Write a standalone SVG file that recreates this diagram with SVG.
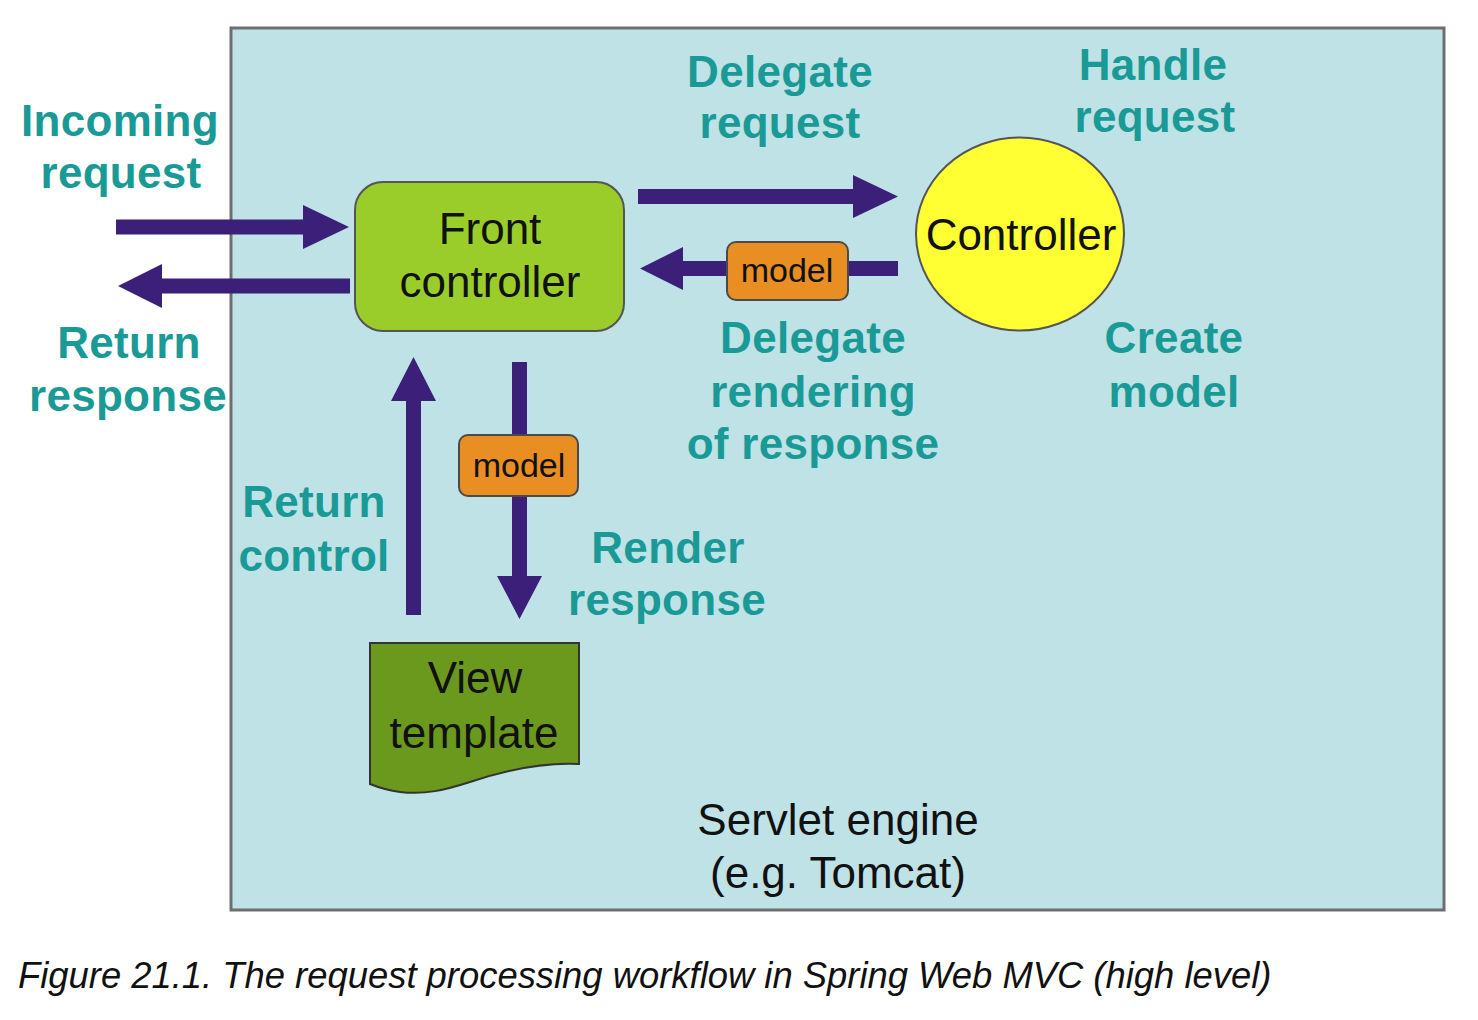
<svg xmlns="http://www.w3.org/2000/svg" width="1478" height="1020" viewBox="0 0 1478 1020">
<style>
.lbl{font-family:"Liberation Sans",Arial,sans-serif;font-weight:bold;font-size:44px;letter-spacing:0.3px;fill:#1a9a96;text-anchor:middle}
.nt{font-family:"Liberation Sans",Arial,sans-serif;font-size:44px;fill:#111;text-anchor:middle}
.mt{font-family:"Liberation Sans",Arial,sans-serif;font-size:34px;fill:#111;text-anchor:middle}
.arr{fill:#3b1f78}
.model{fill:#e88e23;stroke:#4a4a4a;stroke-width:2}
</style>
<rect x="0" y="0" width="1478" height="1020" fill="#ffffff"/>
<g id="servlet-engine">
<rect x="231" y="28" width="1213" height="882" fill="#bfe2e6" stroke="#6e6e6e" stroke-width="3"/>
<text class="nt" x="838" y="835">Servlet engine</text>
<text class="nt" x="838" y="888">(e.g. Tomcat)</text>
</g>
<g id="labels">
<text class="lbl" x="120" y="136">Incoming</text>
<text class="lbl" x="121" y="188">request</text>
<text class="lbl" x="129" y="358">Return</text>
<text class="lbl" x="128" y="411">response</text>
<text class="lbl" x="780" y="87">Delegate</text>
<text class="lbl" x="780" y="138">request</text>
<text class="lbl" x="1153" y="80">Handle</text>
<text class="lbl" x="1155" y="132">request</text>
<text class="lbl" x="813" y="353">Delegate</text>
<text class="lbl" x="813" y="407">rendering</text>
<text class="lbl" x="813" y="459">of response</text>
<text class="lbl" x="1174" y="353">Create</text>
<text class="lbl" x="1174" y="407">model</text>
<text class="lbl" x="314" y="517">Return</text>
<text class="lbl" x="314" y="571">control</text>
<text class="lbl" x="668" y="563">Render</text>
<text class="lbl" x="667" y="615">response</text>
</g>
<g id="connectors">
<polygon class="arr" points="116,219.5 303,219.5 303,205 349,227 303,249 303,234.5 116,234.5"/>
<polygon class="arr" points="350,278.5 162,278.5 162,264 118,286 162,308 162,293.5 350,293.5"/>
<polygon class="arr" points="638,189 853,189 853,175 898,196.5 853,218 853,204 638,204"/>
<polygon class="arr" points="898,261 683,261 683,247 640,268.5 683,290 683,276 898,276"/>
<polygon class="arr" points="406,615 406,401 391,401 413.5,357 436,401 421,401 421,615"/>
<polygon class="arr" points="512,362 527,362 527,576 542,576 519.5,619 497,576 512,576"/>
<g id="model-1">
<rect class="model" x="727" y="242" width="121" height="58" rx="9"/>
<text class="mt" x="787" y="282">model</text>
</g>
<g id="model-2">
<rect class="model" x="459" y="435" width="119" height="61" rx="9"/>
<text class="mt" x="519" y="477">model</text>
</g>
</g>
<g id="front-controller">
<rect x="355" y="182" width="269" height="149" rx="28" fill="#9acd2a" stroke="#555" stroke-width="2"/>
<text class="nt" x="490" y="244">Front</text>
<text class="nt" x="490" y="297">controller</text>
</g>
<g id="controller">
<ellipse cx="1020" cy="234" rx="104" ry="96.5" fill="#ffff33" stroke="#555" stroke-width="2"/>
<text class="nt" x="1021" y="250">Controller</text>
</g>
<g id="view-template">
<path d="M370,643 L579,643 L579,764 C540,762 500,772 470,782 C445,790 425,795 400,792 C385,790 375,786 370,784 Z" fill="#6b991e" stroke="#333" stroke-width="2"/>
<text class="nt" x="475" y="693">View</text>
<text class="nt" x="474" y="748">template</text>
</g>
<text x="18" y="988" font-family="'Liberation Sans',Arial,sans-serif" font-style="italic" font-size="36.4" fill="#111">Figure 21.1. The request processing workflow in Spring Web MVC (high level)</text>
</svg>
